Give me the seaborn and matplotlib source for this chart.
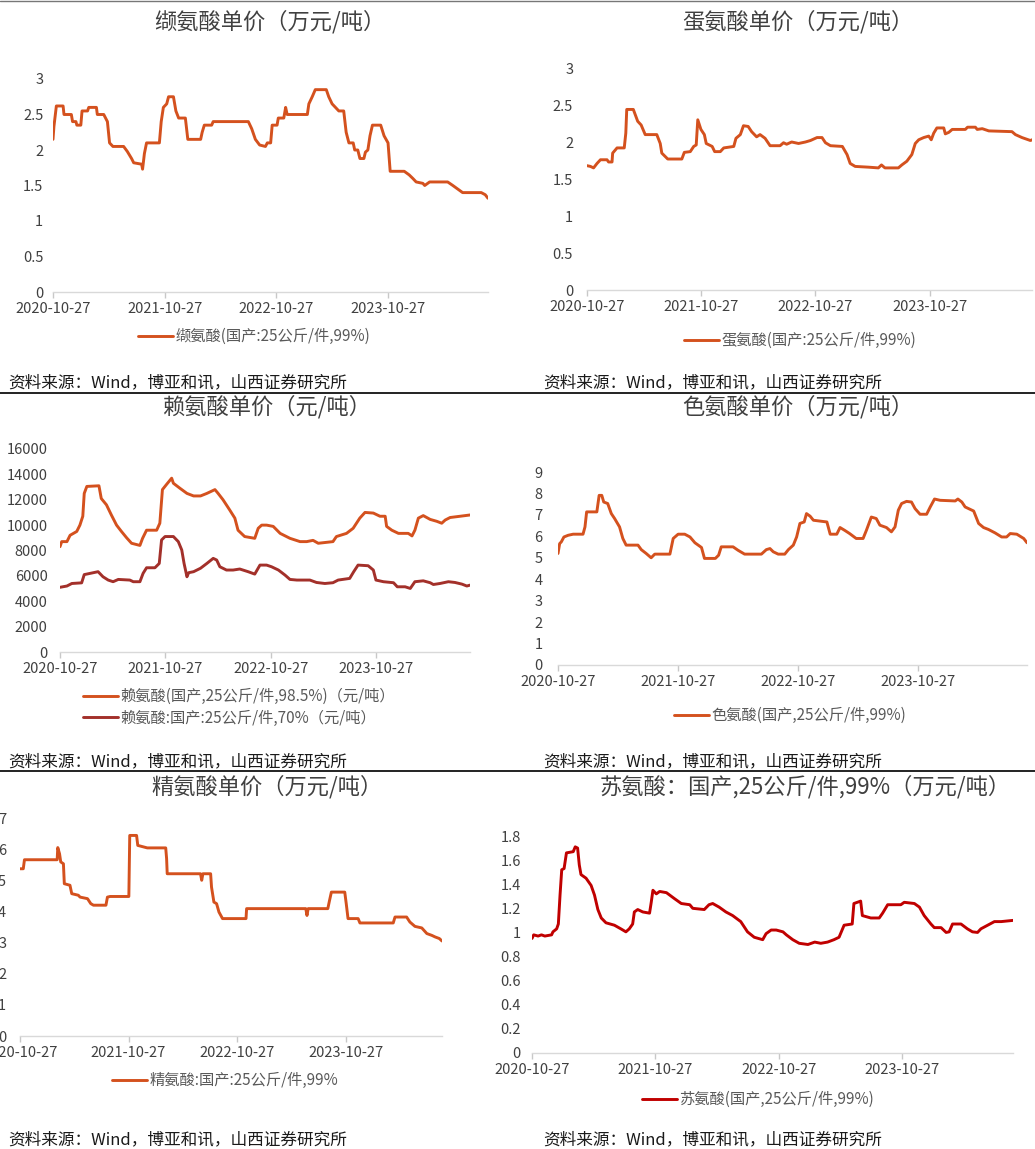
import matplotlib
matplotlib.use("Agg")
import matplotlib.pyplot as plt
import matplotlib.dates as mdates
from matplotlib.lines import Line2D
import seaborn as sns
import pandas as pd

# ---------------------------------------------------------------- data
START = "2020-10-27"
TICK_DATES = ["2020-10-27", "2021-10-27", "2022-10-27", "2023-10-27"]
SOURCE = "资料来源：Wind，博亚和讯，山西证券研究所"

titles = ["缬氨酸单价（万元/吨）", "蛋氨酸单价（万元/吨）", "赖氨酸单价（元/吨）",
          "色氨酸单价（万元/吨）", "精氨酸单价（万元/吨）",
          "苏氨酸：国产,25公斤/件,99%（万元/吨）"]

valine_label = "缬氨酸(国产:25公斤/件,99%)"
valine_dates = ["2020-10-27", "2020-10-30", "2020-11-07", "2020-11-29", "2020-12-02", "2020-12-26", "2020-12-30", "2021-01-10", "2021-01-13", "2021-01-26",
                "2021-01-30", "2021-02-17", "2021-02-21", "2021-03-18", "2021-03-21", "2021-04-11", "2021-04-17", "2021-04-23", "2021-04-30", "2021-05-11",
                "2021-06-15", "2021-06-27", "2021-07-11", "2021-07-18", "2021-08-13", "2021-08-16", "2021-08-22", "2021-08-29", "2021-10-10", "2021-10-16",
                "2021-10-23", "2021-11-03", "2021-11-09", "2021-11-25", "2021-12-03", "2021-12-12", "2022-01-03", "2022-01-11", "2022-02-22", "2022-02-27",
                "2022-03-06", "2022-03-30", "2022-04-04", "2022-07-28", "2022-08-08", "2022-08-20", "2022-09-03", "2022-09-22", "2022-09-28", "2022-10-09",
                "2022-10-14", "2022-10-30", "2022-11-03", "2022-11-21", "2022-11-27", "2022-12-02", "2023-02-06", "2023-02-11", "2023-02-22", "2023-03-04",
                "2023-04-09", "2023-04-17", "2023-04-28", "2023-05-09", "2023-05-20", "2023-06-05", "2023-06-13", "2023-06-22", "2023-07-06", "2023-07-11",
                "2023-07-21", "2023-07-28", "2023-08-10", "2023-08-15", "2023-08-23", "2023-08-30", "2023-09-07", "2023-10-04", "2023-10-15", "2023-10-28",
                "2023-11-04", "2023-12-20", "2024-01-05", "2024-01-17", "2024-01-28", "2024-02-19", "2024-02-25", "2024-03-12", "2024-05-10", "2024-05-27",
                "2024-06-12", "2024-06-28", "2024-08-28", "2024-09-10", "2024-09-19"]
valine_price = [2.15, 2.33, 2.62, 2.62, 2.5, 2.5, 2.4, 2.4, 2.35, 2.35,
                2.55, 2.55, 2.6, 2.6, 2.5, 2.5, 2.45, 2.4, 2.1, 2.05,
                2.05, 1.98, 1.88, 1.82, 1.8, 1.73, 1.95, 2.1, 2.1, 2.4,
                2.6, 2.65, 2.75, 2.75, 2.55, 2.45, 2.45, 2.15, 2.15, 2.25,
                2.35, 2.35, 2.4, 2.4, 2.3, 2.15, 2.07, 2.05, 2.1, 2.1,
                2.35, 2.35, 2.45, 2.45, 2.6, 2.5, 2.5, 2.65, 2.75, 2.85,
                2.85, 2.75, 2.65, 2.6, 2.55, 2.55, 2.25, 2.1, 2.1, 2.0,
                2.0, 1.88, 1.88, 1.97, 2.0, 2.2, 2.35, 2.35, 2.2, 2.1,
                1.7, 1.7, 1.65, 1.6, 1.55, 1.53, 1.5, 1.55, 1.55, 1.5,
                1.45, 1.4, 1.4, 1.37, 1.32]

methionine_label = "蛋氨酸(国产:25公斤/件,99%)"
methionine_dates = ["2020-10-27", "2020-11-07", "2020-11-17", "2020-11-28", "2020-12-09", "2020-12-30", "2021-01-04", "2021-01-15", "2021-01-17", "2021-01-31",
                    "2021-02-23", "2021-02-28", "2021-03-03", "2021-03-24", "2021-04-07", "2021-04-18", "2021-05-01", "2021-06-07", "2021-06-18", "2021-06-23",
                    "2021-07-12", "2021-08-26", "2021-09-03", "2021-09-22", "2021-10-03", "2021-10-11", "2021-10-16", "2021-10-26", "2021-11-06", "2021-11-12",
                    "2021-12-01", "2021-12-09", "2021-12-27", "2022-01-07", "2022-02-08", "2022-02-15", "2022-03-01", "2022-03-11", "2022-03-26", "2022-04-06",
                    "2022-04-22", "2022-05-03", "2022-05-19", "2022-06-04", "2022-07-06", "2022-07-17", "2022-07-27", "2022-08-12", "2022-09-03", "2022-09-25",
                    "2022-10-11", "2022-11-01", "2022-11-17", "2022-11-28", "2022-12-14", "2023-01-21", "2023-02-05", "2023-02-15", "2023-03-03", "2023-04-14",
                    "2023-05-16", "2023-05-26", "2023-06-06", "2023-07-19", "2023-07-30", "2023-08-15", "2023-08-31", "2023-09-11", "2023-09-22", "2023-10-08",
                    "2023-10-24", "2023-11-01", "2023-11-09", "2023-11-19", "2023-12-11", "2023-12-16", "2023-12-27", "2024-01-07", "2024-02-18", "2024-02-25",
                    "2024-03-21", "2024-03-27", "2024-04-12", "2024-05-03", "2024-07-16", "2024-07-27", "2024-08-17", "2024-09-13", "2024-09-18"]
methionine_price = [1.68, 1.67, 1.65, 1.71, 1.76, 1.76, 1.73, 1.73, 1.85, 1.92,
                    1.92, 2.12, 2.44, 2.44, 2.28, 2.23, 2.1, 2.1, 1.98, 1.85,
                    1.77, 1.77, 1.86, 1.87, 1.94, 1.96, 2.3, 2.17, 2.1, 1.98,
                    1.94, 1.87, 1.87, 1.92, 1.94, 2.05, 2.1, 2.22, 2.21, 2.14,
                    2.07, 2.1, 2.05, 1.95, 1.95, 1.99, 1.97, 2.0, 1.98, 2.0,
                    2.02, 2.06, 2.06, 1.99, 1.95, 1.94, 1.83, 1.71, 1.67, 1.66,
                    1.65, 1.69, 1.65, 1.65, 1.69, 1.74, 1.83, 1.98, 2.03, 2.06,
                    2.08, 2.03, 2.12, 2.19, 2.19, 2.11, 2.13, 2.17, 2.17, 2.2,
                    2.2, 2.17, 2.18, 2.15, 2.14, 2.1, 2.06, 2.02, 2.03]

lysine985_label = "赖氨酸(国产,25公斤/件,98.5%)（元/吨）"
lysine985_dates = ["2020-10-27", "2020-11-02", "2020-11-20", "2020-12-01", "2020-12-24", "2021-01-04", "2021-01-14", "2021-01-19", "2021-01-28", "2021-03-11",
                   "2021-03-19", "2021-04-06", "2021-04-23", "2021-05-11", "2021-05-28", "2021-06-15", "2021-07-02", "2021-07-31", "2021-08-09", "2021-08-23",
                   "2021-09-27", "2021-10-08", "2021-10-17", "2021-10-31", "2021-11-18", "2021-11-24", "2021-12-17", "2022-01-10", "2022-02-02", "2022-02-26",
                   "2022-03-20", "2022-04-17", "2022-04-28", "2022-05-15", "2022-06-07", "2022-06-25", "2022-07-06", "2022-07-29", "2022-09-02", "2022-09-14",
                   "2022-09-26", "2022-10-13", "2022-11-05", "2022-11-29", "2023-01-02", "2023-02-06", "2023-03-01", "2023-03-23", "2023-04-10", "2023-05-31",
                   "2023-06-12", "2023-07-17", "2023-08-09", "2023-09-01", "2023-09-19", "2023-10-18", "2023-11-10", "2023-11-28", "2023-12-03", "2023-12-21",
                   "2024-01-13", "2024-02-16", "2024-02-29", "2024-03-10", "2024-03-22", "2024-04-08", "2024-05-02", "2024-05-25", "2024-06-11", "2024-06-23",
                   "2024-07-10", "2024-08-14", "2024-09-17"]
lysine985_price = [8300, 8700, 8700, 9200, 9500, 10000, 10700, 12500, 13050, 13100,
                   12100, 11600, 10800, 10000, 9500, 9000, 8570, 8400, 8950, 9600,
                   9600, 10150, 12800, 13200, 13700, 13300, 12900, 12500, 12300, 12300,
                   12500, 12800, 12500, 12000, 11200, 10550, 9600, 9100, 8960, 9750,
                   10000, 10000, 9900, 9350, 8960, 8700, 8700, 8800, 8570, 8700,
                   9100, 9350, 9750, 10550, 11000, 10950, 10700, 10700, 9900, 9600,
                   9350, 9350, 9150, 9600, 10550, 10750, 10450, 10300, 10150, 10400,
                   10600, 10700, 10800]

lysine70_label = "赖氨酸:国产:25公斤/件,70%（元/吨）"
lysine70_dates = ["2020-10-27", "2020-11-20", "2020-12-07", "2021-01-10", "2021-01-19", "2021-02-09", "2021-03-08", "2021-03-25", "2021-04-12", "2021-04-29",
                  "2021-05-17", "2021-06-26", "2021-07-08", "2021-07-31", "2021-08-11", "2021-08-23", "2021-09-21", "2021-10-06", "2021-10-14", "2021-10-26",
                  "2021-11-24", "2021-12-11", "2021-12-23", "2021-12-31", "2022-01-10", "2022-01-16", "2022-02-02", "2022-02-26", "2022-03-20", "2022-04-11",
                  "2022-04-23", "2022-05-04", "2022-05-27", "2022-06-19", "2022-07-12", "2022-08-10", "2022-09-02", "2022-09-20", "2022-10-13", "2022-10-30",
                  "2022-11-23", "2022-12-16", "2023-01-02", "2023-01-26", "2023-03-12", "2023-04-04", "2023-05-03", "2023-05-31", "2023-06-18", "2023-07-28",
                  "2023-08-11", "2023-08-26", "2023-09-30", "2023-10-18", "2023-10-27", "2023-11-22", "2023-12-27", "2024-01-09", "2024-02-05", "2024-02-23",
                  "2024-03-10", "2024-04-08", "2024-05-02", "2024-05-13", "2024-06-05", "2024-07-04", "2024-07-27", "2024-08-20", "2024-09-06", "2024-09-17"]
lysine70_price = [5100, 5200, 5400, 5450, 6100, 6200, 6330, 5930, 5670, 5540,
                  5720, 5670, 5540, 5540, 6200, 6640, 6640, 6980, 8830, 9100,
                  9100, 8700, 8040, 6980, 5930, 6250, 6330, 6600, 6980, 7380,
                  7250, 6720, 6460, 6460, 6540, 6330, 6140, 6850, 6850, 6720,
                  6460, 6060, 5720, 5670, 5670, 5480, 5400, 5460, 5670, 5800,
                  6330, 6850, 6800, 6460, 5670, 5540, 5460, 5140, 5140, 5010,
                  5540, 5610, 5460, 5320, 5400, 5540, 5480, 5350, 5200, 5270]

tryptophan_label = "色氨酸(国产,25公斤/件,99%)"
tryptophan_dates = ["2020-10-27", "2020-11-01", "2020-11-06", "2020-11-14", "2020-11-27", "2020-12-12", "2021-01-11", "2021-01-17", "2021-01-22", "2021-02-22",
                    "2021-03-01", "2021-03-09", "2021-03-15", "2021-03-27", "2021-04-07", "2021-04-17", "2021-05-02", "2021-05-12", "2021-05-22", "2021-06-27",
                    "2021-07-07", "2021-07-22", "2021-08-06", "2021-08-17", "2021-10-02", "2021-10-12", "2021-10-27", "2021-11-16", "2021-12-02", "2021-12-17",
                    "2022-01-06", "2022-01-15", "2022-02-17", "2022-02-27", "2022-03-07", "2022-04-12", "2022-04-27", "2022-05-17", "2022-07-07", "2022-07-22",
                    "2022-08-02", "2022-08-12", "2022-08-27", "2022-09-16", "2022-09-27", "2022-10-12", "2022-10-22", "2022-11-01", "2022-11-14", "2022-11-21",
                    "2022-12-02", "2022-12-12", "2023-01-22", "2023-02-01", "2023-02-21", "2023-03-03", "2023-03-17", "2023-04-01", "2023-04-21", "2023-05-12",
                    "2023-05-22", "2023-06-06", "2023-06-21", "2023-07-02", "2023-07-22", "2023-08-06", "2023-08-17", "2023-08-27", "2023-09-06", "2023-09-21",
                    "2023-10-06", "2023-10-17", "2023-11-01", "2023-11-21", "2023-12-02", "2023-12-15", "2024-01-01", "2024-02-16", "2024-02-24", "2024-03-07",
                    "2024-03-17", "2024-04-12", "2024-04-27", "2024-05-12", "2024-05-27", "2024-06-16", "2024-07-06", "2024-07-21", "2024-08-01", "2024-08-21",
                    "2024-09-11", "2024-09-21"]
tryptophan_price = [5.2, 5.66, 5.74, 5.97, 6.05, 6.1, 6.1, 6.44, 7.14, 7.14,
                    7.91, 7.91, 7.6, 7.53, 7.06, 6.83, 6.44, 5.9, 5.59, 5.59,
                    5.38, 5.2, 5.0, 5.17, 5.17, 5.9, 6.1, 6.1, 5.97, 5.7,
                    5.48, 4.97, 4.97, 5.12, 5.51, 5.51, 5.35, 5.17, 5.17, 5.38,
                    5.43, 5.28, 5.17, 5.17, 5.38, 5.59, 5.97, 6.6, 6.67, 7.06,
                    6.94, 6.75, 6.67, 6.1, 6.1, 6.41, 6.28, 6.13, 5.9, 5.9,
                    6.28, 6.9, 6.83, 6.52, 6.41, 6.21, 6.44, 7.22, 7.53, 7.63,
                    7.6, 7.29, 7.03, 7.03, 7.37, 7.74, 7.68, 7.65, 7.74, 7.6,
                    7.37, 7.18, 6.6, 6.41, 6.32, 6.16, 5.97, 5.97, 6.13, 6.1,
                    5.9, 5.7]

arginine_label = "精氨酸:国产:25公斤/件,99%"
arginine_dates = ["2020-10-27", "2020-11-07", "2020-11-11", "2021-03-01", "2021-03-03", "2021-03-09", "2021-03-13", "2021-03-22", "2021-03-25", "2021-04-13",
                  "2021-04-19", "2021-05-11", "2021-05-17", "2021-06-11", "2021-06-22", "2021-07-01", "2021-08-12", "2021-08-17", "2021-08-26", "2021-10-28",
                  "2021-10-31", "2021-11-23", "2021-11-27", "2021-12-29", "2022-03-01", "2022-03-04", "2022-03-06", "2022-06-26", "2022-06-30", "2022-07-04",
                  "2022-07-30", "2022-08-02", "2022-08-10", "2022-08-19", "2022-08-27", "2022-09-08", "2022-11-26", "2022-11-28", "2023-06-15", "2023-06-19",
                  "2023-06-23", "2023-08-28", "2023-09-03", "2023-09-09", "2023-10-24", "2023-10-29", "2023-11-04", "2023-12-08", "2023-12-14", "2024-04-04",
                  "2024-04-10", "2024-05-19", "2024-05-30", "2024-06-16", "2024-07-09", "2024-07-26", "2024-08-12", "2024-08-23", "2024-09-06", "2024-09-15"]
arginine_price = [5.37, 5.37, 5.66, 5.66, 6.05, 5.85, 5.59, 5.53, 4.89, 4.84,
                  4.57, 4.52, 4.46, 4.41, 4.25, 4.2, 4.2, 4.46, 4.48, 4.48,
                  6.44, 6.44, 6.12, 6.04, 6.04, 5.69, 5.21, 5.21, 5.0, 5.21,
                  5.21, 4.78, 4.3, 4.25, 3.98, 3.77, 3.77, 4.09, 4.09, 3.87,
                  4.09, 4.09, 4.36, 4.62, 4.62, 4.25, 3.77, 3.77, 3.63, 3.63,
                  3.82, 3.82, 3.66, 3.52, 3.47, 3.29, 3.23, 3.18, 3.13, 3.05]

threonine_label = "苏氨酸(国产,25公斤/件,99%)"
threonine_dates = ["2020-10-27", "2020-11-01", "2020-11-14", "2020-11-24", "2020-12-04", "2020-12-24", "2020-12-28", "2021-01-08", "2021-01-13", "2021-01-18",
                   "2021-01-23", "2021-01-30", "2021-02-06", "2021-02-26", "2021-03-04", "2021-03-11", "2021-03-16", "2021-03-21", "2021-04-05", "2021-04-20",
                   "2021-04-30", "2021-05-10", "2021-05-20", "2021-06-03", "2021-06-28", "2021-07-17", "2021-08-01", "2021-08-11", "2021-08-21", "2021-08-26",
                   "2021-09-05", "2021-09-20", "2021-10-10", "2021-10-15", "2021-10-20", "2021-10-30", "2021-11-09", "2021-11-29", "2021-12-23", "2022-01-12",
                   "2022-02-06", "2022-02-15", "2022-03-21", "2022-04-04", "2022-04-15", "2022-05-04", "2022-05-24", "2022-06-13", "2022-07-07", "2022-07-27",
                   "2022-08-16", "2022-09-10", "2022-09-20", "2022-10-05", "2022-10-20", "2022-11-09", "2022-11-19", "2022-12-08", "2022-12-27", "2023-01-22",
                   "2023-02-11", "2023-03-01", "2023-03-21", "2023-04-09", "2023-04-24", "2023-05-09", "2023-06-02", "2023-06-07", "2023-06-17", "2023-06-27",
                   "2023-07-02", "2023-07-27", "2023-08-21", "2023-08-31", "2023-09-15", "2023-10-24", "2023-11-03", "2023-12-03", "2023-12-18", "2024-01-01",
                   "2024-01-21", "2024-01-31", "2024-02-20", "2024-03-06", "2024-03-15", "2024-03-25", "2024-04-19", "2024-05-08", "2024-05-23", "2024-06-07",
                   "2024-06-17", "2024-07-07", "2024-07-27", "2024-08-16", "2024-09-20"]
threonine_price = [0.95, 0.98, 0.97, 0.98, 0.97, 0.98, 1.005, 1.03, 1.07, 1.31,
                   1.52, 1.53, 1.66, 1.67, 1.71, 1.70, 1.56, 1.48, 1.45, 1.39,
                   1.31, 1.19, 1.12, 1.08, 1.06, 1.03, 1.005, 1.03, 1.07, 1.17,
                   1.19, 1.17, 1.16, 1.25, 1.35, 1.32, 1.34, 1.33, 1.28, 1.24,
                   1.23, 1.2, 1.19, 1.23, 1.24, 1.21, 1.17, 1.14, 1.09, 1.005,
                   0.96, 0.94, 0.99, 1.02, 1.02, 1.005, 0.98, 0.94, 0.91, 0.9,
                   0.92, 0.91, 0.92, 0.94, 0.96, 1.06, 1.07, 1.24, 1.25, 1.26,
                   1.14, 1.12, 1.12, 1.16, 1.23, 1.23, 1.25, 1.24, 1.21, 1.14,
                   1.07, 1.04, 1.04, 1.0, 1.005, 1.07, 1.07, 1.03, 1.005, 1.0,
                   1.03, 1.06, 1.09, 1.09, 1.1]

valine_yticks = [0, 0.5, 1, 1.5, 2, 2.5, 3]
methionine_yticks = [0, 0.5, 1, 1.5, 2, 2.5, 3]
lysine_yticks = [0, 2000, 4000, 6000, 8000, 10000, 12000, 14000, 16000]
tryptophan_yticks = [0, 1, 2, 3, 4, 5, 6, 7, 8, 9]
arginine_yticks = [0, 1, 2, 3, 4, 5, 6, 7]
threonine_yticks = [0, 0.2, 0.4, 0.6, 0.8, 1, 1.2, 1.4, 1.6, 1.8]

# ---------------------------------------------------------------- style
sns.set_theme(style="white")
plt.rcParams['font.family'] = ['Noto Sans CJK SC', 'DejaVu Sans']
plt.rcParams['axes.unicode_minus'] = False

ORANGE = "#D4511E"
DARKRED = "#A3302A"
RED = "#C00000"
TXT = "#404040"

W, H = 1035, 1149
fig = plt.figure(figsize=(W / 100, H / 100), dpi=100)
fig.patch.set_facecolor("white")


def fx(px):
    return px / W


def fy(py):
    return 1 - py / H


def make_axes(l, t, r, b):
    return fig.add_axes([fx(l), fy(b), fx(r - l), (b - t) / H])


def draw_panel(ax, series, yticks, ypad, legend_xy, title, title_xy, source_xy):
    last = None
    for label, dates, vals, color in series:
        df = pd.DataFrame({"date": pd.to_datetime(dates), "value": vals})
        sns.lineplot(data=df, x="date", y="value", ax=ax, color=color,
                     linewidth=2.1, label=label)
        last = df["date"].max() if last is None else max(last, df["date"].max())
    ax.set_xlim(pd.Timestamp(START), last)
    ax.set_ylim(yticks[0], yticks[-1])
    ax.set_yticks(yticks)
    ax.set_yticklabels([f"{v:g}" for v in yticks])
    ax.set_xticks(pd.to_datetime(TICK_DATES))
    ax.xaxis.set_major_formatter(mdates.DateFormatter("%Y-%m-%d"))
    ax.set_xlabel("")
    ax.set_ylabel("")
    for s in ("top", "right", "left"):
        ax.spines[s].set_visible(False)
    ax.spines["bottom"].set_color("#D9D9D9")
    ax.spines["bottom"].set_linewidth(1.0)
    ax.set_facecolor("none")
    ax.grid(False)
    ax.tick_params(axis="x", length=4, width=1, color="#C8C8C8", pad=3,
                   labelsize=10.5, labelcolor=TXT, direction="out", bottom=True)
    ax.tick_params(axis="y", length=0, pad=ypad, labelsize=10.5, labelcolor=TXT)
    ax.legend(loc="upper left", bbox_to_anchor=(fx(legend_xy[0]), fy(legend_xy[1])),
              bbox_transform=fig.transFigure, frameon=False, fontsize=11,
              handlelength=2.3, handletextpad=0.15, borderpad=0, borderaxespad=0,
              labelspacing=0.3, labelcolor="#595959")
    fig.text(fx(title_xy[0]), fy(title_xy[1]), title, ha="center", va="center",
             fontsize=16, color=TXT)
    fig.text(fx(source_xy[0]), fy(source_xy[1]), SOURCE, ha="left", va="center",
             fontsize=12, color="#1a1a1a")


ax1 = make_axes(53, 79, 488, 292)
draw_panel(ax1, [(valine_label, valine_dates, valine_price, ORANGE)],
           valine_yticks, 7, (138, 328), titles[0], (270, 22), (8, 383))

ax2 = make_axes(587, 68, 1032, 290)
draw_panel(ax2, [(methionine_label, methionine_dates, methionine_price, ORANGE)],
           methionine_yticks, 10, (684, 332), titles[1], (798, 22), (543, 383))

ax3 = make_axes(60, 449, 470, 652)
draw_panel(ax3, [(lysine985_label, lysine985_dates, lysine985_price, ORANGE),
                 (lysine70_label, lysine70_dates, lysine70_price, DARKRED)],
           lysine_yticks, 9, (83, 688), titles[2], (267, 407), (8, 762))

ax4 = make_axes(558, 472, 1027, 665)
draw_panel(ax4, [(tryptophan_label, tryptophan_dates, tryptophan_price, ORANGE)],
           tryptophan_yticks, 11, (674, 707), titles[3], (798, 407), (543, 762))

ax5 = make_axes(20, 818, 442, 1036)
draw_panel(ax5, [(arginine_label, arginine_dates, arginine_price, ORANGE)],
           arginine_yticks, 10, (112, 1072), titles[4], (267, 787), (8, 1140))

ax6 = make_axes(532, 836, 1013, 1053)
draw_panel(ax6, [(threonine_label, threonine_dates, threonine_price, RED)],
           threonine_yticks, 8, (642, 1091), titles[5], (805, 787), (543, 1140))

# separators
fig.add_artist(Line2D([0, 1], [fy(0.5), fy(0.5)], transform=fig.transFigure,
                      color="#777777", linewidth=1.0))
for yy in (393, 771):
    fig.add_artist(Line2D([0, 1], [fy(yy), fy(yy)], transform=fig.transFigure,
                          color="#222222", linewidth=1.4))

fig.savefig("out.png", dpi=100, facecolor="white")
